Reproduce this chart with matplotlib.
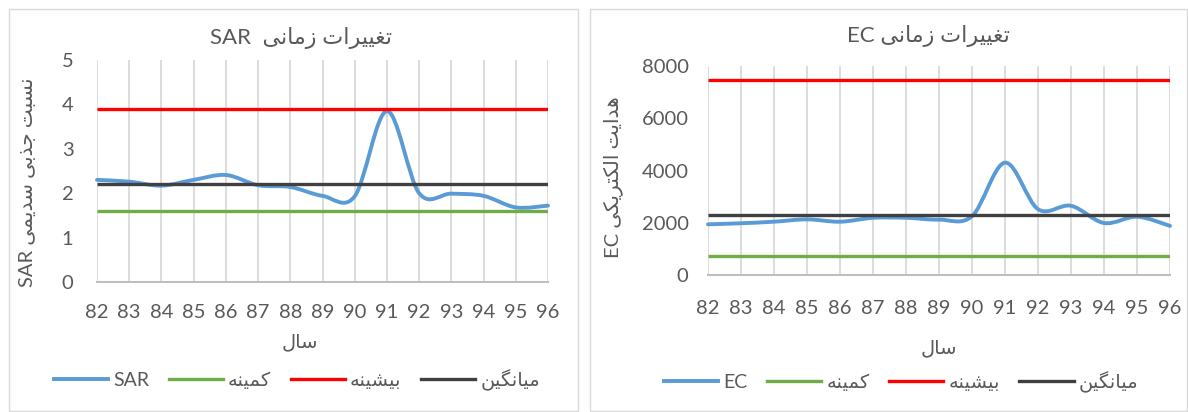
import numpy as np
import matplotlib
matplotlib.use("Agg")
import matplotlib.pyplot as plt
from matplotlib.path import Path
from matplotlib.patches import PathPatch, Rectangle
from matplotlib.lines import Line2D

# ---------------- data ----------------
years = ["82", "83", "84", "85", "86", "87", "88", "89", "90", "91", "92", "93", "94", "95", "96"]
sar = [2.30, 2.26, 2.17, 2.30, 2.41, 2.18, 2.14, 1.94, 1.93, 3.85, 2.00, 1.99, 1.94, 1.68, 1.72]
sar_min = 1.60
sar_max = 3.90
sar_mean = 2.20
ec = [1940, 1980, 2040, 2130, 2040, 2190, 2190, 2120, 2250, 4300, 2520, 2650, 1990, 2230, 1880]
ec_min = 740
ec_max = 7450
ec_mean = 2300
sar_yticks = [0, 1, 2, 3, 4, 5]
ec_yticks = [0, 2000, 4000, 6000, 8000]

title_word = "تغییرات زمانی"
sar_ylabel_fa = "نسبت جذبی سدیمی"
ec_ylabel_fa = "هدایت الکتریکی"
xlabel_fa = "سال"
lbl_min = "کمینه"
lbl_max = "بیشینه"
lbl_mean = "میانگین"

# ---------------- Persian shaping (presentation forms + visual order) ----------------
FORMS = {
    'ا': ('\uFE8D', '\uFE8E', None, None),
    'ب': ('\uFE8F', '\uFE90', '\uFE91', '\uFE92'),
    'ت': ('\uFE95', '\uFE96', '\uFE97', '\uFE98'),
    'ج': ('\uFE9D', '\uFE9E', '\uFE9F', '\uFEA0'),
    'د': ('\uFEA9', '\uFEAA', None, None),
    'ذ': ('\uFEAB', '\uFEAC', None, None),
    'ر': ('\uFEAD', '\uFEAE', None, None),
    'ز': ('\uFEAF', '\uFEB0', None, None),
    'س': ('\uFEB1', '\uFEB2', '\uFEB3', '\uFEB4'),
    'ش': ('\uFEB5', '\uFEB6', '\uFEB7', '\uFEB8'),
    'غ': ('\uFECD', '\uFECE', '\uFECF', '\uFED0'),
    'ل': ('\uFEDD', '\uFEDE', '\uFEDF', '\uFEE0'),
    'م': ('\uFEE1', '\uFEE2', '\uFEE3', '\uFEE4'),
    'ن': ('\uFEE5', '\uFEE6', '\uFEE7', '\uFEE8'),
    'ه': ('\uFEE9', '\uFEEA', '\uFEEB', '\uFEEC'),
    'ک': ('\uFB8E', '\uFB8F', '\uFB90', '\uFB91'),
    'گ': ('\uFB92', '\uFB93', '\uFB94', '\uFB95'),
    'ی': ('\uFBFC', '\uFBFD', '\uFBFE', '\uFBFF'),
}
RIGHT_ONLY = set('ادذرزژو')


def shape_word(w):
    out = []
    n = len(w)
    for i, ch in enumerate(w):
        if ch not in FORMS:
            out.append(ch)
            continue
        prev = w[i - 1] if i > 0 else None
        nxt = w[i + 1] if i < n - 1 else None
        jp = prev is not None and prev in FORMS and prev not in RIGHT_ONLY
        jn = nxt is not None and nxt in FORMS and ch not in RIGHT_ONLY
        iso, fin, ini, med = FORMS[ch]
        if jp and jn:
            f = med
        elif jp:
            f = fin
        elif jn:
            f = ini
        else:
            f = iso
        out.append(f)
    return ''.join(reversed(out))


def fa(s):
    return ' '.join(shape_word(w) for w in reversed(s.split(' ')))


# ---------------- style ----------------
plt.rcParams['font.family'] = ['Lato', 'DejaVu Sans']
TXT = '#595959'
C_BLUE = '#5B9BD5'
C_GREEN = '#70AD47'
C_RED = '#FF0000'
C_BLACK = '#404040'
GRID = '#D9D9D9'

W, H = 1188, 412
fig = plt.figure(figsize=(W / 100, H / 100), dpi=100)
fig.patch.set_facecolor('white')

# chart area borders
fig.patches.append(Rectangle((9 / W, 1 / H), (578 - 9) / W, (403 - 1) / H, transform=fig.transFigure,
                             fill=False, edgecolor='#D9D9D9', lw=1.0))
fig.patches.append(Rectangle((590 / W, 1 / H), (1187 - 590) / W, (403 - 1) / H, transform=fig.transFigure,
                             fill=False, edgecolor='#D9D9D9', lw=1.0))


def smooth_path(xs, ys):
    """Excel-like smoothed line as cubic Bezier segments (Catmull-Rom control points)."""
    xs = np.asarray(xs, float)
    ys = np.asarray(ys, float)
    n = len(xs)
    verts = [(xs[0], ys[0])]
    codes = [Path.MOVETO]
    for i in range(n - 1):
        p0 = np.array([xs[max(i - 1, 0)], ys[max(i - 1, 0)]])
        p1 = np.array([xs[i], ys[i]])
        p2 = np.array([xs[i + 1], ys[i + 1]])
        p3 = np.array([xs[min(i + 2, n - 1)], ys[min(i + 2, n - 1)]])
        c1 = p1 + (p2 - p0) / 6.0
        c2 = p2 - (p3 - p1) / 6.0
        verts += [tuple(c1), tuple(c2), tuple(p2)]
        codes += [Path.CURVE4] * 3
    return Path(verts, codes)


def make_panel(rect, values, vmin, vmax, vmean, yticks, ylim, series_name, ylabel, ytick_pad, xtick_pad):
    ax = fig.add_axes(rect)
    x = np.arange(len(years))
    patch = PathPatch(smooth_path(x, values), facecolor='none', edgecolor=C_BLUE, lw=2.8,
                      capstyle='round', joinstyle='round', zorder=2, clip_on=False)
    ax.add_patch(patch)
    ax.axhline(vmin, color=C_GREEN, lw=2.4, zorder=3, solid_capstyle='butt')
    ax.axhline(vmax, color=C_RED, lw=2.4, zorder=4, solid_capstyle='butt')
    ax.axhline(vmean, color=C_BLACK, lw=2.4, zorder=5, solid_capstyle='butt')
    ax.set_xlim(0, len(years) - 1)
    ax.set_ylim(*ylim)
    ax.set_xticks(x)
    ax.set_xticklabels(years)
    ax.set_yticks(yticks)
    ax.grid(axis='x', color=GRID, lw=1.3, zorder=0)
    ax.set_axisbelow(True)
    for s in ['top', 'right', 'left']:
        ax.spines[s].set_visible(False)
    ax.spines['bottom'].set_color('#BFBFBF')
    ax.spines['bottom'].set_linewidth(1.5)
    ax.tick_params(axis='both', length=0, labelsize=14.5, colors=TXT)
    ax.tick_params(axis='x', pad=xtick_pad)
    ax.tick_params(axis='y', pad=ytick_pad)
    ax.set_ylabel(ylabel, fontsize=14.5, color=TXT)
    handles = [Line2D([], [], color=C_BLUE, lw=2.8),
               Line2D([], [], color=C_GREEN, lw=2.4),
               Line2D([], [], color=C_RED, lw=2.4),
               Line2D([], [], color=C_BLACK, lw=2.4)]
    labels = [series_name, fa(lbl_min), fa(lbl_max), fa(lbl_mean)]
    return ax, handles, labels


# left panel (SAR)
axL, hL, lL = make_panel([97 / W, 1 - 282 / H, (548 - 97) / W, (282 - 60) / H], sar, sar_min, sar_max, sar_mean,
                         sar_yticks, (0, 5), "SAR", "SAR " + fa(sar_ylabel_fa), 17, 16)
axL.yaxis.set_label_coords(-0.135, 0.45)
axL.set_xlabel(fa(xlabel_fa), fontsize=14, color=TXT)
axL.xaxis.set_label_coords(0.45, -0.23)
fig.text(301 / W, 1 - 38 / H, "SAR  " + fa(title_word), ha='center', va='center', fontsize=16, color=TXT)
fig.legend(hL, lL, loc='center', bbox_to_anchor=(297 / W, 1 - 380 / H), ncol=4, frameon=False,
           fontsize=14, handlelength=2.8, handletextpad=0.25, columnspacing=1.0, labelcolor=TXT)

# right panel (EC)
axR, hR, lR = make_panel([708 / W, 1 - 275 / H, (1170 - 708) / W, (275 - 66) / H], ec, ec_min, ec_max, ec_mean,
                         ec_yticks, (0, 8000), "EC", "EC " + fa(ec_ylabel_fa), 14, 18)
axR.yaxis.set_label_coords(-0.185, 0.47)
axR.set_xlabel(fa(xlabel_fa), fontsize=14, color=TXT)
axR.xaxis.set_label_coords(0.5, -0.31)
fig.text(928 / W, 1 - 36 / H, "EC " + fa(title_word), ha='center', va='center', fontsize=16, color=TXT)
fig.legend(hR, lR, loc='center', bbox_to_anchor=(901 / W, 1 - 382 / H), ncol=4, frameon=False,
           fontsize=14, handlelength=2.8, handletextpad=0.25, columnspacing=1.0, labelcolor=TXT)

fig.savefig("out.png", dpi=100, facecolor='white')
